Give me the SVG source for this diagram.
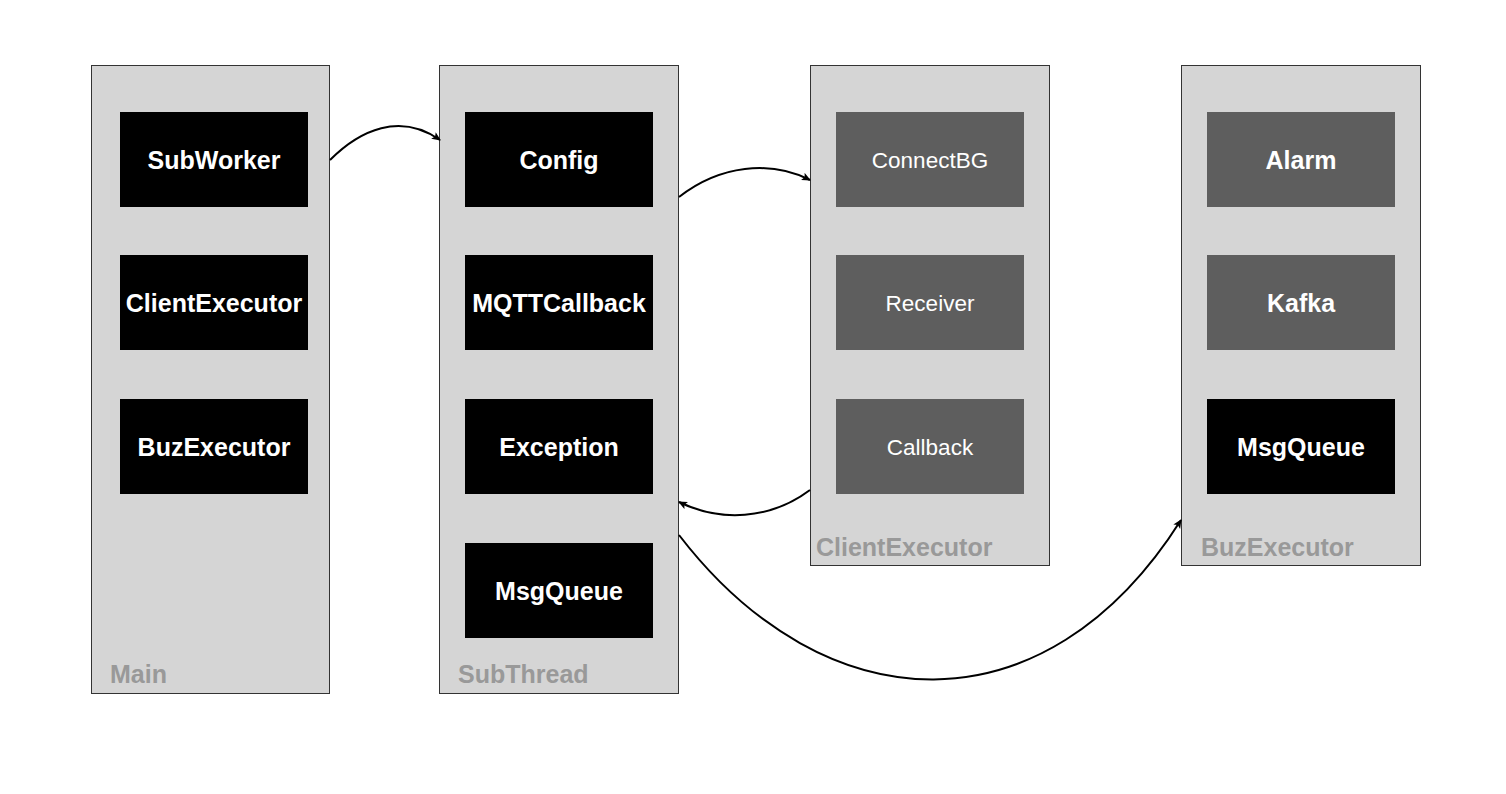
<svg xmlns="http://www.w3.org/2000/svg" width="1506" height="794" viewBox="0 0 1506 794">
<style>
.cont{fill:#d5d5d5;stroke:#333;stroke-width:1}
.blk{fill:#000}
.gry{fill:#5e5e5e}
.t{font-family:"Liberation Sans",Arial,sans-serif;fill:#fff;text-anchor:middle;dominant-baseline:central}
.b{font-weight:bold;font-size:25px}
.n{font-size:22.5px}
.lbl{font-family:"Liberation Sans",Arial,sans-serif;font-weight:bold;font-size:25px;fill:#999}
.edge{fill:none;stroke:#000;stroke-width:2;marker-end:url(#ah)}
</style>
<defs>
<marker id="ah" markerWidth="10" markerHeight="10" refX="8" refY="4" orient="auto" markerUnits="userSpaceOnUse">
<path d="M0,0 L9,4 L0,8 L2,4 Z" fill="#000"/>
</marker>
</defs>
<rect width="1506" height="794" fill="#fff"/>
<g id="Main">
<rect class="cont" x="91.500" y="65.500" width="238" height="628"/>
<text class="lbl" x="110" y="683">Main</text>
</g>
<g id="SubThread">
<rect class="cont" x="439.500" y="65.500" width="239" height="628"/>
<text class="lbl" x="458" y="683">SubThread</text>
</g>
<g id="ClientExecutorC">
<rect class="cont" x="810.500" y="65.500" width="239" height="500"/>
<text class="lbl" x="816" y="556">ClientExecutor</text>
</g>
<g id="BuzExecutorC">
<rect class="cont" x="1181.500" y="65.500" width="239" height="500"/>
<text class="lbl" x="1201" y="556">BuzExecutor</text>
</g>
<g id="SubWorker"><rect class="blk" x="120" y="112" width="188" height="95"/><text class="t b" x="214" y="160">SubWorker</text></g>
<g id="ClientExecutor"><rect class="blk" x="120" y="255" width="188" height="95"/><text class="t b" x="214" y="303">ClientExecutor</text></g>
<g id="BuzExecutor"><rect class="blk" x="120" y="399" width="188" height="95"/><text class="t b" x="214" y="447">BuzExecutor</text></g>
<g id="Config"><rect class="blk" x="465" y="112" width="188" height="95"/><text class="t b" x="559" y="160">Config</text></g>
<g id="MQTTCallback"><rect class="blk" x="465" y="255" width="188" height="95"/><text class="t b" x="559" y="303">MQTTCallback</text></g>
<g id="Exception"><rect class="blk" x="465" y="399" width="188" height="95"/><text class="t b" x="559" y="447">Exception</text></g>
<g id="MsgQueue1"><rect class="blk" x="465" y="543" width="188" height="95"/><text class="t b" x="559" y="591">MsgQueue</text></g>
<g id="ConnectBG"><rect class="gry" x="836" y="112" width="188" height="95"/><text class="t n" x="930" y="160">ConnectBG</text></g>
<g id="Receiver"><rect class="gry" x="836" y="255" width="188" height="95"/><text class="t n" x="930" y="303">Receiver</text></g>
<g id="Callback"><rect class="gry" x="836" y="399" width="188" height="95"/><text class="t n" x="930" y="447">Callback</text></g>
<g id="Alarm"><rect class="gry" x="1207" y="112" width="188" height="95"/><text class="t b" x="1301" y="160">Alarm</text></g>
<g id="Kafka"><rect class="gry" x="1207" y="255" width="188" height="95"/><text class="t b" x="1301" y="303">Kafka</text></g>
<g id="MsgQueue2"><rect class="blk" x="1207" y="399" width="188" height="95"/><text class="t b" x="1301" y="447">MsgQueue</text></g>
<g id="connectors">
<path class="edge" d="M330,160 C360,130 400,112 440,140"/>
<path class="edge" d="M679,197 C720,165 770,160 810,180"/>
<path class="edge" d="M810,490 C770,520 720,522 679,502"/>
<path class="edge" d="M679,535 C825,725 1045,735 1181,520"/>
</g>
</svg>
